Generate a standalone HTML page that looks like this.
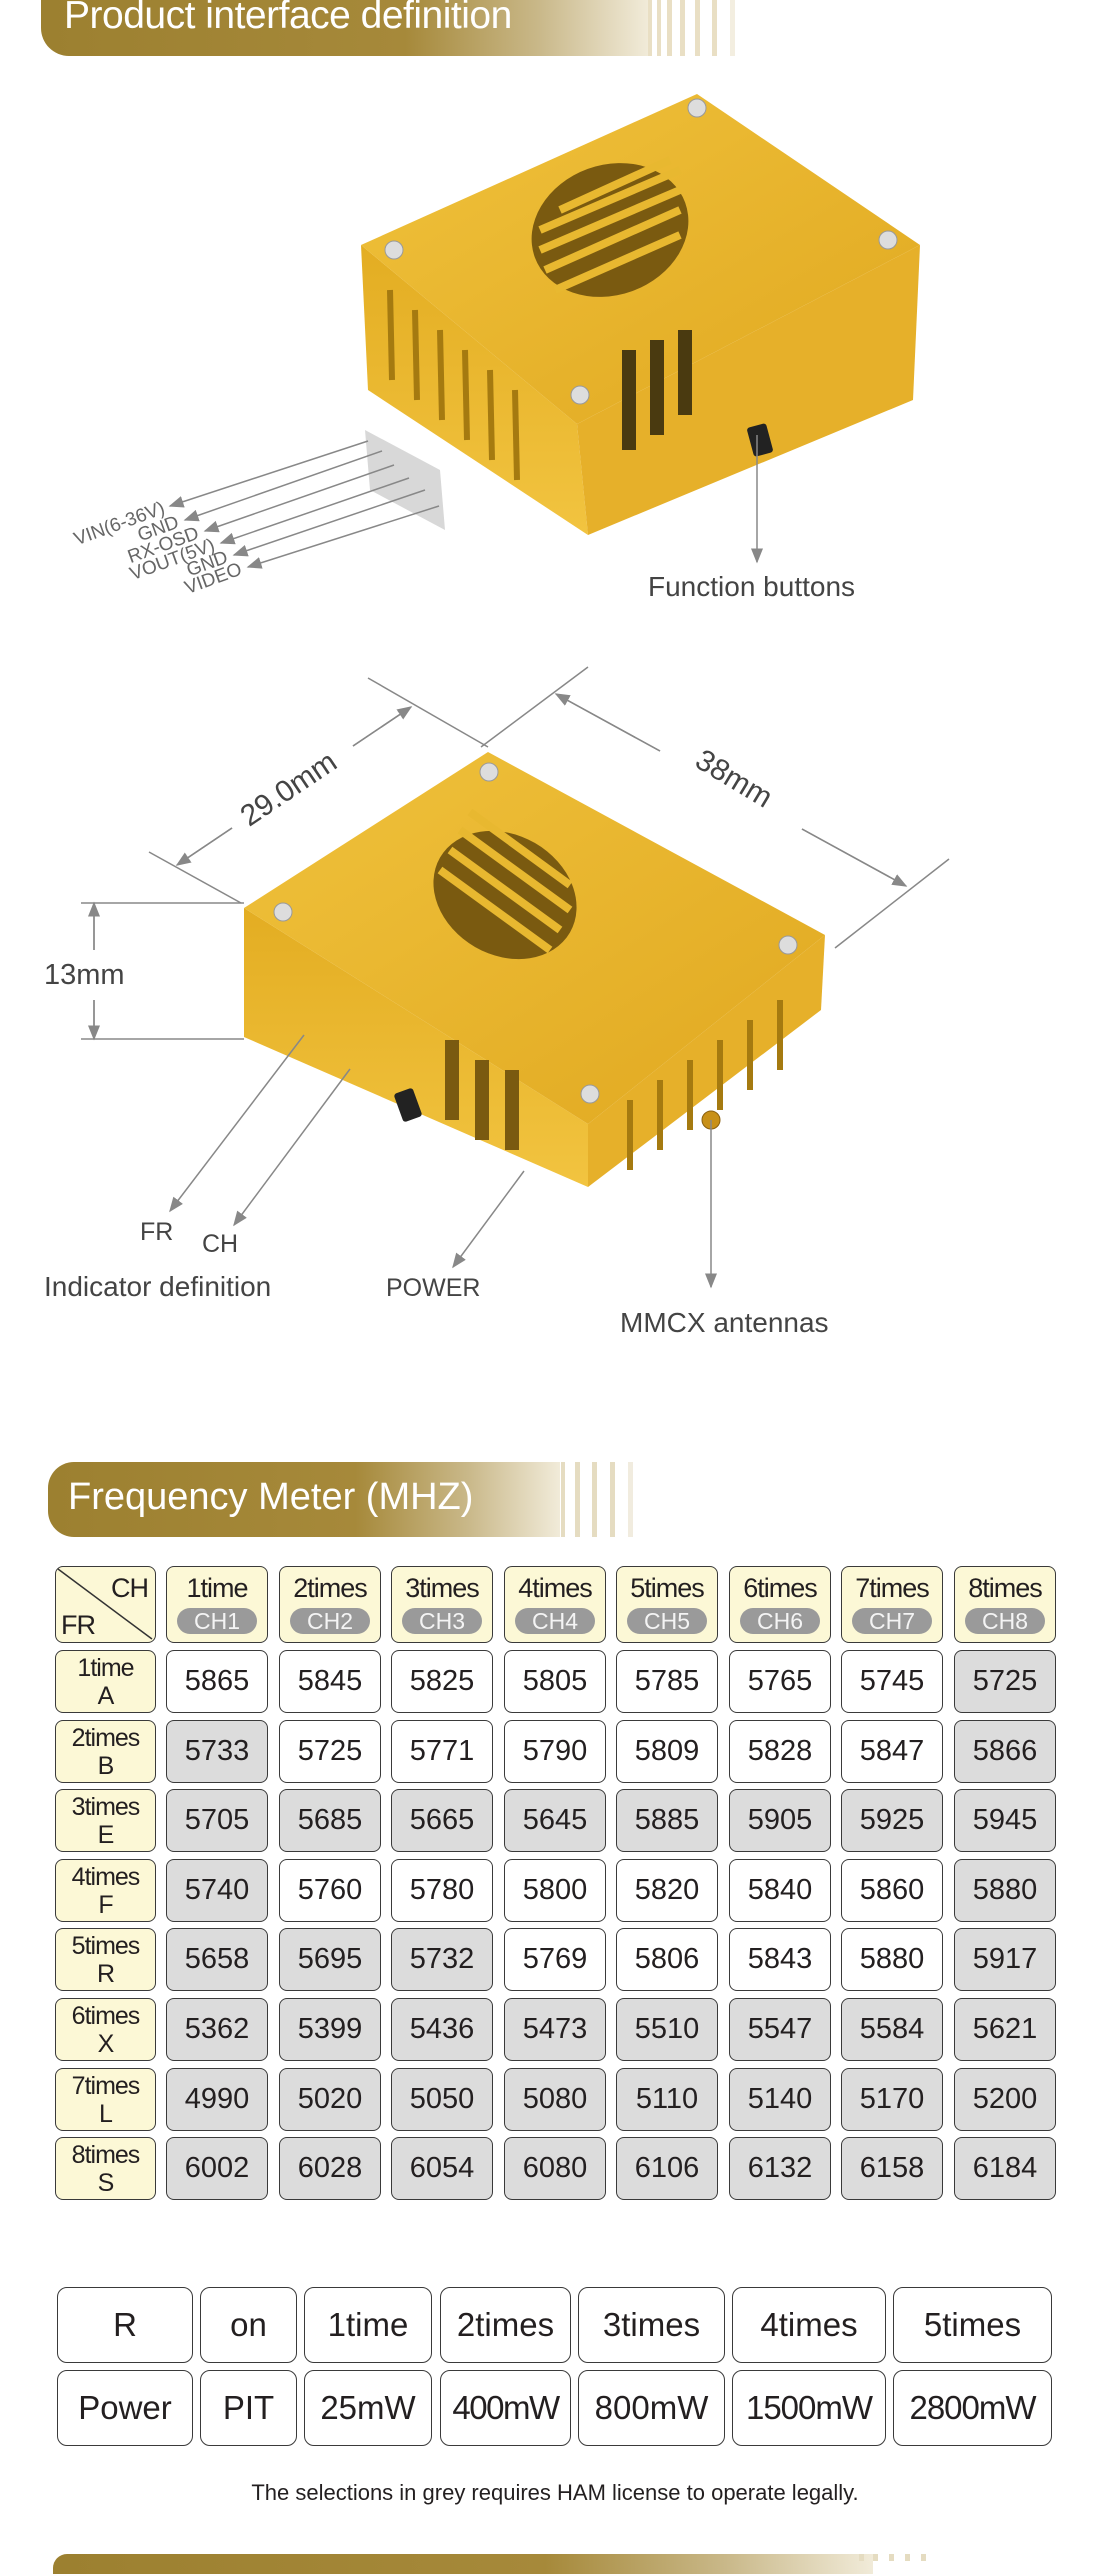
<!DOCTYPE html>
<html><head><meta charset="utf-8">
<style>
*{margin:0;padding:0;box-sizing:border-box}
body{width:1110px;height:2560px;background:#fff;position:relative;overflow:hidden;font-family:"Liberation Sans",sans-serif;color:#231f20}
.a{position:absolute}
.bar{position:absolute;border-radius:0 0 0 28px;background:linear-gradient(90deg,#9c8030 0%,#a6893a 60%,#c9b889 82%,#f1ebd9 100%)}
.c{position:absolute;width:102px;height:63px;border:1.5px solid #3a3a3a;border-radius:8px;text-align:center;line-height:61px;font-size:29px;background:#fff}
.g{background:#dcdcdc}
.y{background:#fcf8d6}
.h{height:77px;line-height:normal;font-size:27px;padding-top:6px;letter-spacing:-1px}
.pill{display:block;margin:4px auto 0;width:80px;height:26px;border-radius:13px;background:#9a9a9a;color:#f4f4f4;font-size:23px;line-height:26px;letter-spacing:0}
.r{line-height:28px;font-size:25px;padding-top:3px;letter-spacing:-1px}
.b{position:absolute;height:76px;border:1.5px solid #3a3a3a;border-radius:10px;text-align:center;line-height:74px;font-size:33px;background:#fff}
</style></head><body>

<!-- Header 1 -->
<div class="bar" style="left:41px;top:0;width:607px;height:56px"></div>
<svg class="a" style="left:640px;top:0" width="110" height="56"><g fill="#e9dfc4"><rect x="8" y="0" width="4" height="56"/><rect x="17" y="0" width="4" height="56"/><rect x="27" y="0" width="5" height="56"/><rect x="40" y="0" width="5" height="56"/><rect x="55" y="0" width="5" height="56"/><rect x="72" y="0" width="5" height="56"/><rect x="90" y="0" width="5" height="56" fill="#f3eee0"/></g></svg>
<div class="a" style="left:64px;top:-6px;font-size:39px;color:#fff;letter-spacing:-0.5px">Product interface definition</div>

<svg class="a" style="left:0;top:0" width="1110" height="1400">
<defs>
<linearGradient id="gt" x1="0" y1="0" x2="1" y2="1"><stop offset="0" stop-color="#f0c23c"/><stop offset="1" stop-color="#e0a820"/></linearGradient>
<linearGradient id="gs" x1="0" y1="0" x2="0" y2="1"><stop offset="0" stop-color="#e3ad22"/><stop offset="1" stop-color="#f2c440"/></linearGradient>
<marker id="ar" markerWidth="10" markerHeight="10" refX="9" refY="5" orient="auto"><path d="M0,1 L10,5 L0,9 z" fill="#888"/></marker>
</defs>
<!-- Device 1 -->
<polygon points="361,245 577,424 588,535 368,390" fill="url(#gs)"/>
<polygon points="577,424 920,245 913,400 588,535" fill="#e6b02a"/>
<polygon points="361,245 697,94 920,245 577,424" fill="url(#gt)"/>
<g stroke="#a57a10" stroke-width="6">
<line x1="390" y1="290" x2="392" y2="380"/><line x1="415" y1="310" x2="417" y2="400"/><line x1="440" y1="330" x2="442" y2="420"/><line x1="465" y1="350" x2="467" y2="440"/><line x1="490" y1="370" x2="492" y2="460"/><line x1="515" y1="390" x2="517" y2="480"/>
</g>
<g fill="#4a3a10"><rect x="622" y="350" width="14" height="100"/><rect x="650" y="340" width="14" height="95"/><rect x="678" y="330" width="14" height="85"/></g>
<ellipse cx="610" cy="230" rx="80" ry="65" fill="#7a5a10" transform="rotate(-20 610 230)"/>
<g stroke="#e8b830" stroke-width="8"><line x1="540" y1="250" x2="680" y2="190"/><line x1="540" y1="230" x2="680" y2="170"/><line x1="545" y1="270" x2="680" y2="210"/><line x1="555" y1="290" x2="680" y2="235"/><line x1="560" y1="210" x2="670" y2="160"/></g>
<g fill="#ddd" stroke="#999"><circle cx="697" cy="108" r="9"/><circle cx="394" cy="250" r="9"/><circle cx="888" cy="240" r="9"/><circle cx="580" cy="395" r="9"/></g>
<rect x="750" y="425" width="20" height="30" rx="3" fill="#222" transform="rotate(-15 760 440)"/>
<polygon points="365,430 440,470 445,530 370,490" fill="#d8d8d8"/>
<g stroke="#888" stroke-width="1.5" marker-end="url(#ar)">
<line x1="368" y1="441" x2="170" y2="506"/><line x1="382" y1="451" x2="185" y2="520"/><line x1="394" y1="465" x2="205" y2="531"/><line x1="409" y1="478" x2="221" y2="543"/><line x1="425" y1="490" x2="234" y2="555"/><line x1="439" y1="506" x2="248" y2="567"/>
<line x1="757" y1="435" x2="757" y2="562"/>
</g>
<g fill="#666" font-size="19" text-anchor="end">
<text transform="translate(166,513) rotate(-20)">VIN(6-36V)</text>
<text transform="translate(180,527) rotate(-20)">GND</text>
<text transform="translate(200,538) rotate(-20)">RX-OSD</text>
<text transform="translate(216,550) rotate(-20)">VOUT(5V)</text>
<text transform="translate(229,562) rotate(-20)">GND</text>
<text transform="translate(243,574) rotate(-20)">VIDEO</text>
</g>
<text x="648" y="596" font-size="28" fill="#444">Function buttons</text>

<!-- Device 2 -->
<polygon points="244,908 588,1124 588,1187 244,1037" fill="url(#gs)"/>
<polygon points="588,1124 825,935 821,1010 588,1187" fill="#e6b02a"/>
<polygon points="244,908 488,752 825,935 588,1124" fill="url(#gt)"/>
<g fill="#7a5a10"><rect x="445" y="1040" width="14" height="80"/><rect x="475" y="1060" width="14" height="80"/><rect x="505" y="1070" width="14" height="80"/></g>
<g stroke="#a57a10" stroke-width="6"><line x1="630" y1="1100" x2="630" y2="1170"/><line x1="660" y1="1080" x2="660" y2="1150"/><line x1="690" y1="1060" x2="690" y2="1130"/><line x1="720" y1="1040" x2="720" y2="1110"/><line x1="750" y1="1020" x2="750" y2="1090"/><line x1="780" y1="1000" x2="780" y2="1070"/></g>
<ellipse cx="505" cy="895" rx="75" ry="60" fill="#7a5a10" transform="rotate(30 505 895)"/>
<g stroke="#e8b830" stroke-width="8"><line x1="450" y1="850" x2="560" y2="930"/><line x1="440" y1="870" x2="550" y2="950"/><line x1="460" y1="830" x2="570" y2="910"/><line x1="470" y1="812" x2="570" y2="885"/></g>
<g fill="#ddd" stroke="#999"><circle cx="489" cy="772" r="9"/><circle cx="283" cy="912" r="9"/><circle cx="788" cy="945" r="9"/><circle cx="590" cy="1094" r="9"/></g>
<rect x="398" y="1090" width="20" height="30" rx="3" fill="#222" transform="rotate(-20 408 1105)"/>
<circle cx="711" cy="1120" r="9" fill="#c89018" stroke="#8a6010"/>
<g stroke="#888" stroke-width="1.5">
<line x1="149" y1="852" x2="241" y2="903"/><line x1="368" y1="678" x2="488" y2="747"/>
<line x1="588" y1="667" x2="481" y2="747"/><line x1="949" y1="859" x2="835" y2="948"/>
<line x1="81" y1="903" x2="244" y2="903"/><line x1="81" y1="1039" x2="244" y2="1039"/>
<line x1="177" y1="865" x2="232" y2="828"/><line x1="411" y1="707" x2="353" y2="746"/>
<line x1="556" y1="694" x2="660" y2="751"/><line x1="906" y1="886" x2="802" y2="829"/>
<line x1="94" y1="903" x2="94" y2="950"/><line x1="94" y1="1039" x2="94" y2="1000"/>
</g>
<g stroke="#888" stroke-width="1.5" marker-end="url(#ar)">
<line x1="232" y1="828" x2="177" y2="865"/><line x1="353" y1="746" x2="411" y2="707"/>
<line x1="660" y1="751" x2="556" y2="694"/><line x1="802" y1="829" x2="906" y2="886"/>
<line x1="94" y1="950" x2="94" y2="903"/><line x1="94" y1="1000" x2="94" y2="1039"/>
<line x1="304" y1="1035" x2="170" y2="1211"/><line x1="350" y1="1069" x2="234" y2="1225"/>
<line x1="524" y1="1171" x2="453" y2="1267"/><line x1="711" y1="1120" x2="711" y2="1287"/>
</g>
<g fill="#444" font-size="30">
<text transform="translate(294,797) rotate(-34)" text-anchor="middle">29.0mm</text>
<text transform="translate(729,787) rotate(31)" text-anchor="middle">38mm</text>
<text x="44" y="984" font-size="29">13mm</text>
<text x="140" y="1240" font-size="25">FR</text>
<text x="202" y="1252" font-size="25">CH</text>
<text x="44" y="1296" font-size="28">Indicator definition</text>
<text x="386" y="1296" font-size="25">POWER</text>
<text x="620" y="1332" font-size="28">MMCX antennas</text>
</g>
</svg>

<div class="a" style="left:0;top:10px;width:1110px;height:0">
<!-- Header 2 -->
<div class="bar" style="left:48px;top:1452px;width:512px;height:75px;border-radius:26px 0 0 26px"></div>
<svg class="a" style="left:555px;top:1452px" width="90" height="75"><g fill="#e5dcc1"><rect x="6" y="0" width="4" height="75"/><rect x="20" y="0" width="5" height="75"/><rect x="37" y="0" width="5" height="75"/><rect x="55" y="0" width="5" height="75"/><rect x="73" y="0" width="5" height="75" fill="#f1ecdf"/></g></svg>
<div class="a" style="left:68px;top:1466px;font-size:38px;color:#fff">Frequency Meter (MHZ)</div>

<!-- Table header -->
<div class="c y h" style="left:55px;top:1556px;width:101px;padding:0">
<svg width="98" height="74" style="position:absolute;left:0;top:0"><line x1="2" y1="2" x2="96" y2="72" stroke="#333" stroke-width="1.5"/><text x="92" y="30" text-anchor="end" font-size="27" fill="#231f20">CH</text><text x="5" y="67" font-size="27" fill="#231f20">FR</text></svg></div>
<div class="c y h" style="left:166px;top:1556px">1time<span class="pill">CH1</span></div>
<div class="c y h" style="left:279px;top:1556px">2times<span class="pill">CH2</span></div>
<div class="c y h" style="left:391px;top:1556px">3times<span class="pill">CH3</span></div>
<div class="c y h" style="left:504px;top:1556px">4times<span class="pill">CH4</span></div>
<div class="c y h" style="left:616px;top:1556px">5times<span class="pill">CH5</span></div>
<div class="c y h" style="left:729px;top:1556px">6times<span class="pill">CH6</span></div>
<div class="c y h" style="left:841px;top:1556px">7times<span class="pill">CH7</span></div>
<div class="c y h" style="left:954px;top:1556px">8times<span class="pill">CH8</span></div>

<div class="c y r" style="left:55px;top:1640px;width:101px">1time<br>A</div>
<div class="c" style="left:166px;top:1640px">5865</div><div class="c" style="left:279px;top:1640px">5845</div><div class="c" style="left:391px;top:1640px">5825</div><div class="c" style="left:504px;top:1640px">5805</div><div class="c" style="left:616px;top:1640px">5785</div><div class="c" style="left:729px;top:1640px">5765</div><div class="c" style="left:841px;top:1640px">5745</div><div class="c g" style="left:954px;top:1640px">5725</div>
<div class="c y r" style="left:55px;top:1710px;width:101px">2times<br>B</div>
<div class="c g" style="left:166px;top:1710px">5733</div><div class="c" style="left:279px;top:1710px">5725</div><div class="c" style="left:391px;top:1710px">5771</div><div class="c" style="left:504px;top:1710px">5790</div><div class="c" style="left:616px;top:1710px">5809</div><div class="c" style="left:729px;top:1710px">5828</div><div class="c" style="left:841px;top:1710px">5847</div><div class="c g" style="left:954px;top:1710px">5866</div>
<div class="c y r" style="left:55px;top:1779px;width:101px">3times<br>E</div>
<div class="c g" style="left:166px;top:1779px">5705</div><div class="c g" style="left:279px;top:1779px">5685</div><div class="c g" style="left:391px;top:1779px">5665</div><div class="c g" style="left:504px;top:1779px">5645</div><div class="c g" style="left:616px;top:1779px">5885</div><div class="c g" style="left:729px;top:1779px">5905</div><div class="c g" style="left:841px;top:1779px">5925</div><div class="c g" style="left:954px;top:1779px">5945</div>
<div class="c y r" style="left:55px;top:1849px;width:101px">4times<br>F</div>
<div class="c g" style="left:166px;top:1849px">5740</div><div class="c" style="left:279px;top:1849px">5760</div><div class="c" style="left:391px;top:1849px">5780</div><div class="c" style="left:504px;top:1849px">5800</div><div class="c" style="left:616px;top:1849px">5820</div><div class="c" style="left:729px;top:1849px">5840</div><div class="c" style="left:841px;top:1849px">5860</div><div class="c g" style="left:954px;top:1849px">5880</div>
<div class="c y r" style="left:55px;top:1918px;width:101px">5times<br>R</div>
<div class="c g" style="left:166px;top:1918px">5658</div><div class="c g" style="left:279px;top:1918px">5695</div><div class="c g" style="left:391px;top:1918px">5732</div><div class="c" style="left:504px;top:1918px">5769</div><div class="c" style="left:616px;top:1918px">5806</div><div class="c" style="left:729px;top:1918px">5843</div><div class="c" style="left:841px;top:1918px">5880</div><div class="c g" style="left:954px;top:1918px">5917</div>
<div class="c y r" style="left:55px;top:1988px;width:101px">6times<br>X</div>
<div class="c g" style="left:166px;top:1988px">5362</div><div class="c g" style="left:279px;top:1988px">5399</div><div class="c g" style="left:391px;top:1988px">5436</div><div class="c g" style="left:504px;top:1988px">5473</div><div class="c g" style="left:616px;top:1988px">5510</div><div class="c g" style="left:729px;top:1988px">5547</div><div class="c g" style="left:841px;top:1988px">5584</div><div class="c g" style="left:954px;top:1988px">5621</div>
<div class="c y r" style="left:55px;top:2058px;width:101px">7times<br>L</div>
<div class="c g" style="left:166px;top:2058px">4990</div><div class="c g" style="left:279px;top:2058px">5020</div><div class="c g" style="left:391px;top:2058px">5050</div><div class="c g" style="left:504px;top:2058px">5080</div><div class="c g" style="left:616px;top:2058px">5110</div><div class="c g" style="left:729px;top:2058px">5140</div><div class="c g" style="left:841px;top:2058px">5170</div><div class="c g" style="left:954px;top:2058px">5200</div>
<div class="c y r" style="left:55px;top:2127px;width:101px">8times<br>S</div>
<div class="c g" style="left:166px;top:2127px">6002</div><div class="c g" style="left:279px;top:2127px">6028</div><div class="c g" style="left:391px;top:2127px">6054</div><div class="c g" style="left:504px;top:2127px">6080</div><div class="c g" style="left:616px;top:2127px">6106</div><div class="c g" style="left:729px;top:2127px">6132</div><div class="c g" style="left:841px;top:2127px">6158</div><div class="c g" style="left:954px;top:2127px">6184</div>

<!-- Power table -->
<div class="b" style="left:57px;top:2277px;width:136px">R</div>
<div class="b" style="left:200px;top:2277px;width:97px">on</div>
<div class="b" style="left:304px;top:2277px;width:128px">1time</div>
<div class="b g" style="left:440px;top:2277px;width:131px">2times</div>
<div class="b g" style="left:578px;top:2277px;width:147px">3times</div>
<div class="b g" style="left:732px;top:2277px;width:154px">4times</div>
<div class="b g" style="left:893px;top:2277px;width:159px">5times</div>
<div class="b" style="left:57px;top:2360px;width:136px">Power</div>
<div class="b" style="left:200px;top:2360px;width:97px">PIT</div>
<div class="b" style="left:304px;top:2360px;width:128px">25mW</div>
<div class="b g" style="left:440px;top:2360px;width:131px;letter-spacing:-1.5px">400mW</div>
<div class="b g" style="left:578px;top:2360px;width:147px">800mW</div>
<div class="b g" style="left:732px;top:2360px;width:154px;letter-spacing:-1px">1500mW</div>
<div class="b g" style="left:893px;top:2360px;width:159px;letter-spacing:-1px">2800mW</div>

<div class="a" style="left:0;width:1110px;top:2470px;text-align:center;font-size:22px;color:#231f20">The selections in grey requires HAM license to operate legally.</div>

<div class="bar" style="left:53px;top:2544px;width:820px;height:20px;border-radius:14px 0 0 0"></div>
<svg class="a" style="left:855px;top:2544px" width="100" height="7"><g fill="#e5dcc1"><rect x="4" y="0" width="5" height="7"/><rect x="18" y="0" width="5" height="7"/><rect x="34" y="0" width="5" height="7"/><rect x="50" y="0" width="5" height="7"/><rect x="66" y="0" width="5" height="7"/></g></svg>
</div>
</body></html>
